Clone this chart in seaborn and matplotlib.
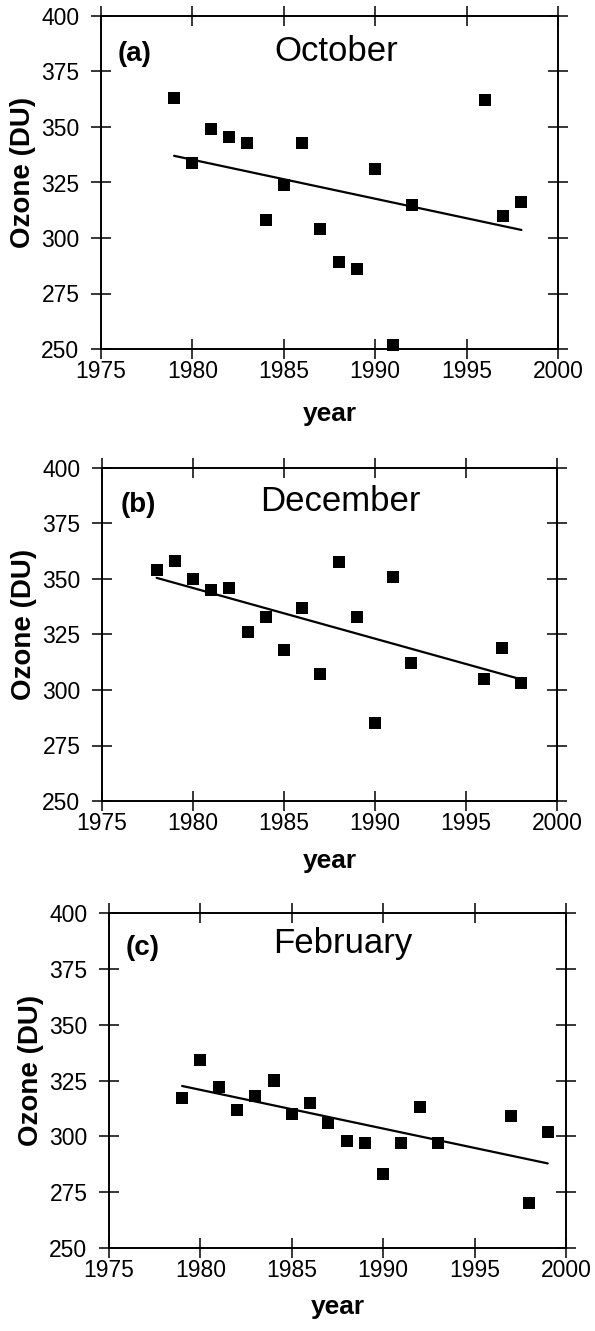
import matplotlib
matplotlib.use("Agg")
import matplotlib.pyplot as plt
import seaborn as sns
import pandas as pd

# ---- data ----
oct_years = [1979, 1980, 1981, 1982, 1983, 1984, 1985, 1986, 1987, 1988,
             1989, 1990, 1991, 1992, 1996, 1997, 1998]
oct_ozone = [363, 334, 349, 345.5, 343, 308, 324, 343, 304, 289,
             286, 331, 252, 315, 362, 310, 316]

dec_years = [1978, 1979, 1980, 1981, 1982, 1983, 1984, 1985, 1986, 1987,
             1988, 1989, 1990, 1991, 1992, 1996, 1997, 1998]
dec_ozone = [354, 358, 350, 345, 346, 326, 333, 318, 337, 307,
             357.5, 333, 285, 351, 312, 305, 319, 303]

feb_years = [1979, 1980, 1981, 1982, 1983, 1984, 1985, 1986, 1987, 1988,
             1989, 1990, 1991, 1992, 1993, 1997, 1998, 1999]
feb_ozone = [317, 334, 322, 312, 318, 325, 310, 315, 306, 298,
             297, 283, 297, 313, 297, 309, 270, 302]

panel_letters = ["(a)", "(b)", "(c)"]
panel_titles = ["October", "December", "February"]
x_ticks = [1975, 1980, 1985, 1990, 1995, 2000]
y_ticks = [250, 275, 300, 325, 350, 375, 400]
x_label = "year"
y_label = "Ozone (DU)"

sns.set_style("ticks")
plt.rcParams["font.family"] = ["Liberation Sans", "DejaVu Sans"]
plt.rcParams["text.color"] = "black"
plt.rcParams["axes.labelcolor"] = "black"
plt.rcParams["xtick.color"] = "black"
plt.rcParams["ytick.color"] = "black"
plt.rcParams["axes.edgecolor"] = "black"

fig = plt.figure(figsize=(5.95, 13.31), dpi=100)

# axes rectangles (fig fraction): left, bottom, width, height
rects = [
    (101 / 595, 1 - 349 / 1331, 457 / 595, 333 / 1331),
    (102 / 595, 1 - 801 / 1331, 455 / 595, 333 / 1331),
    (109 / 595, 1 - 1248 / 1331, 457 / 595, 335 / 1331),
]
title_pos = [(0.514, 0.865), (0.523, 0.872), (0.512, 0.881)]
letter_pos = [(0.037, 0.865), (0.042, 0.868), (0.037, 0.875)]
xlabel_y = [-0.16, -0.145, -0.14]

datasets = [(oct_years, oct_ozone), (dec_years, dec_ozone), (feb_years, feb_ozone)]

for i, (yrs, oz) in enumerate(datasets):
    ax = fig.add_axes(rects[i])
    df = pd.DataFrame({"year": yrs, "ozone": oz})
    sns.regplot(data=df, x="year", y="ozone", ax=ax, scatter=False, ci=None,
                truncate=True, color="black", line_kws={"lw": 1.6})
    sns.scatterplot(data=df, x="year", y="ozone", ax=ax, marker="s", s=75,
                    color="black", edgecolor="none", linewidth=0, clip_on=False,
                    zorder=3)
    ax.set_xlim(1975, 2000)
    ax.set_ylim(250, 400)
    ax.set_xticks(x_ticks)
    ax.set_yticks(y_ticks)
    for side in ["top", "right", "left", "bottom"]:
        ax.spines[side].set_visible(True)
        ax.spines[side].set_linewidth(1.4)
        ax.spines[side].set_color("black")
    ax.tick_params(axis="both", direction="inout", length=15, width=1.1,
                   top=True, right=True, labeltop=False, labelright=False,
                   labelsize=16.5, colors="black", labelcolor="black")
    ax.tick_params(axis="x", pad=0.5)
    ax.tick_params(axis="y", pad=8)
    ax.set_xlabel(x_label, fontsize=19, fontweight="bold", color="black")
    ax.set_ylabel(y_label, fontsize=20, fontweight="bold", color="black")
    ax.xaxis.set_label_coords(0.5, xlabel_y[i])
    ax.yaxis.set_label_coords(-0.142, 0.53)
    ax.text(title_pos[i][0], title_pos[i][1], panel_titles[i], transform=ax.transAxes,
            ha="center", va="baseline", fontsize=25, color="black")
    ax.text(letter_pos[i][0], letter_pos[i][1], panel_letters[i], transform=ax.transAxes,
            ha="left", va="baseline", fontsize=20, fontweight="bold", color="black")
    ax.set_facecolor("white")

fig.savefig("out.png", dpi=100, facecolor="white")
